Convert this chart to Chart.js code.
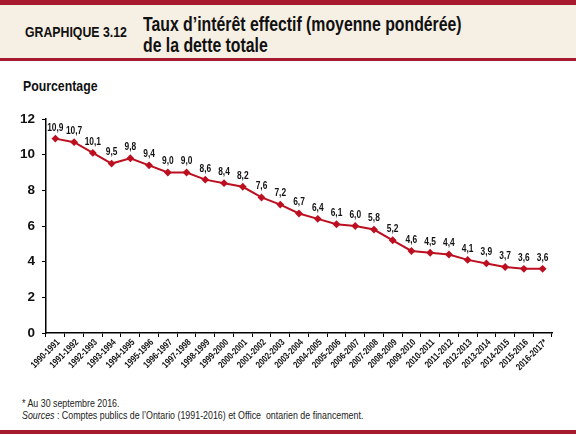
<!DOCTYPE html>
<html>
<head>
<meta charset="utf-8">
<script src="https://cdn.jsdelivr.net/npm/chart.js@4"></script>
<style>
  body { margin: 0; width: 576px; height: 436px; background: #fff; position: relative; overflow: hidden;
         font-family: "Liberation Sans", Arial, sans-serif; }
  .topbar { position: absolute; left: 0; top: 0; width: 576px; height: 5px; background: #a6192e; }
  .header { position: absolute; left: 0; top: 5px; width: 576px; height: 53px; background: #f6efe3; }
  .midbar { position: absolute; left: 0; top: 58px; width: 576px; height: 3px; background: #a6192e; }
  .cond { transform: scaleX(0.82); transform-origin: left top; white-space: nowrap; }
  .num { position: absolute; left: 25px; top: 23px; font-weight: bold; font-size: 15px; color: #111; }
  .title { position: absolute; left: 143px; top: 14px; font-weight: bold; font-size: 19.3px; line-height: 21px; color: #111; }
  .unit { position: absolute; left: 23px; top: 77px; font-weight: bold; font-size: 15px; color: #111; }
  .wrap { position: absolute; left: 0; top: 100px; width: 576px; height: 290px; }
  .note { position: absolute; left: 22px; font-size: 10.8px; color: #222; }
  .botbar { position: absolute; left: 0; top: 430px; width: 576px; height: 4px; background: #a6192e; }
</style>
</head>
<body>
<div class="topbar"></div>
<div class="header"></div>
<div class="midbar"></div>
<div class="num cond">GRAPHIQUE 3.12</div>
<div class="title cond">Taux d’intérêt effectif (moyenne pondérée)<br>de la dette totale</div>
<div class="unit cond">Pourcentage</div>
<div class="wrap"><canvas id="taux"></canvas></div>
<div class="note cond" style="top:397px">* Au 30 septembre 2016.</div>
<div class="note cond" style="top:409px"><i>Sources</i> : Comptes publics de l’Ontario (1991-2016) et Office&nbsp; ontarien de financement.</div>
<div class="botbar"></div>
<script>
// data
const annees = ['1990-1991', '1991-1992', '1992-1993', '1993-1994', '1994-1995', '1995-1996', '1996-1997',
  '1997-1998', '1998-1999', '1999-2000', '2000-2001', '2001-2002', '2002-2003', '2003-2004', '2004-2005',
  '2005-2006', '2006-2007', '2007-2008', '2008-2009', '2009-2010', '2010-2011', '2011-2012', '2012-2013',
  '2013-2014', '2014-2015', '2015-2016', '2016-2017*'];
const taux = [10.9, 10.7, 10.1, 9.5, 9.8, 9.4, 9.0, 9.0, 8.6, 8.4, 8.2, 7.6, 7.2, 6.7, 6.4, 6.1, 6.0, 5.8,
  5.2, 4.6, 4.5, 4.4, 4.1, 3.9, 3.7, 3.6, 3.6];
const yTicks = [0, 2, 4, 6, 8, 10, 12];

const police = '"Liberation Sans", Arial, sans-serif';

// condensed text: canvas has no narrow font here, so squeeze it
function texteEtroit(ctx, txt, x, y, angle) {
  ctx.save();
  ctx.translate(x, y);
  if (angle) ctx.rotate(angle);
  ctx.scale(0.8, 1);
  ctx.fillText(txt, 0, 0);
  ctx.restore();
}

// values above the points + rotated year labels
const etiquettes = {
  id: 'etiquettes',
  afterDatasetsDraw(chart) {
    const ctx = chart.ctx;
    const meta = chart.getDatasetMeta(0);
    ctx.save();
    ctx.fillStyle = '#111';
    ctx.font = 'bold 10.5px ' + police;
    ctx.textAlign = 'center';
    ctx.textBaseline = 'middle';
    meta.data.forEach((pt, i) => {
      texteEtroit(ctx, taux[i].toFixed(1).replace('.', ','), pt.x, pt.y - 11);
    });
    const xs = chart.scales.x;
    ctx.font = 'bold 9.5px ' + police;
    ctx.textAlign = 'right';
    ctx.textBaseline = 'middle';
    annees.forEach((lab, i) => {
      texteEtroit(ctx, lab, xs.getPixelForTick(i) + 3, xs.top + 8, -Math.PI / 4);
    });
    ctx.restore();
  }
};

const ctx = document.getElementById('taux').getContext('2d');
const chart = new Chart(ctx, {
  type: 'line',
  data: {
    labels: annees,
    datasets: [{
      data: taux,
      borderColor: '#bc0f20',
      backgroundColor: '#bc0f20',
      borderWidth: 2,
      pointStyle: 'rectRot',
      pointRadius: 2.5,
      tension: 0
    }]
  },
  options: {
    responsive: true,
    maintainAspectRatio: false,
    animation: false,
    layout: { padding: { top: 19, right: 24, left: 0, bottom: 0 } },
    plugins: { legend: false, tooltip: false },
    scales: {
      x: {
        offset: true,
        grid: { offset: true, drawOnChartArea: false, drawTicks: true, tickLength: 4, color: '#000' },
        border: { color: '#000', width: 1.5 },
        ticks: { display: false, autoSkip: false },
        afterFit(scale) { scale.height = 57; }
      },
      y: {
        min: 0, max: 12,
        afterBuildTicks(scale) { scale.ticks = yTicks.map(v => ({ value: v })); },
        grid: { drawOnChartArea: false, drawTicks: true, tickLength: 4, color: '#000' },
        border: { color: '#000', width: 1.5 },
        ticks: { padding: 7, color: '#111', font: { family: police, size: 13.5, weight: 'bold' } },
        afterFit(scale) { scale.width = 46; }
      }
    }
  },
  plugins: [etiquettes]
});
</script>
</body>
</html>
